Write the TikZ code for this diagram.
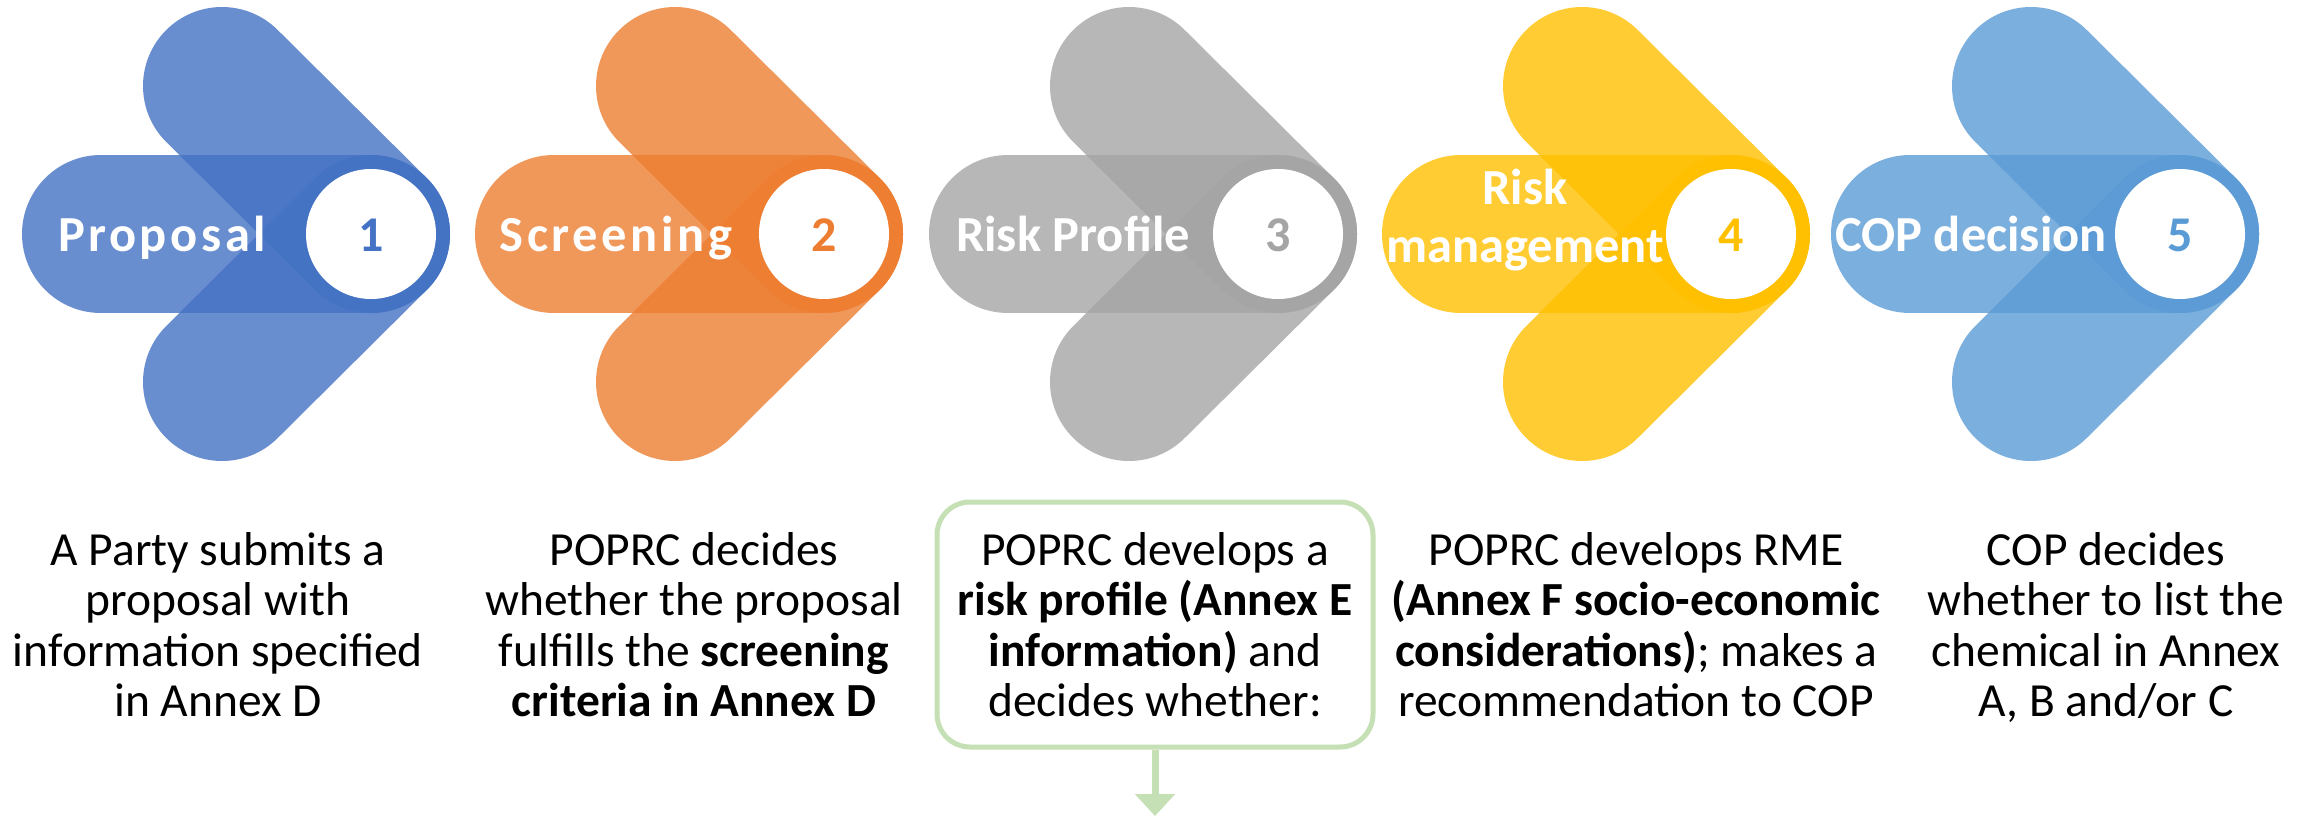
\documentclass[tikz,border=0pt]{standalone}
\usepackage{fontspec}
\setmainfont{Carlito}
\newfontfamily\spacedfont[LetterSpace=7]{Carlito}
\usetikzlibrary{arrows.meta}
\definecolor{cone}{HTML}{4472C4}
\definecolor{ctwo}{HTML}{ED7D31}
\definecolor{cthree}{HTML}{A5A5A5}
\definecolor{cfour}{HTML}{FFC000}
\definecolor{cfive}{HTML}{5B9BD5}
\definecolor{boxgreen}{HTML}{C5E0B4}
\newcommand{\mylines}[1]{\begin{tabular}[t]{@{}c@{}}#1\end{tabular}}
\renewcommand{\arraystretch}{1}
\begin{document}
\begin{tikzpicture}[x=1pt,y=-1pt,
  band/.style={line width=158pt, line cap=round, draw opacity=0.8},
  num/.style={font=\fontsize{50}{55}\selectfont\bfseries, anchor=base, inner sep=0pt},
  lab/.style={text=white, anchor=base, inner sep=0pt},
  desc/.style={font=\fontsize{47.5}{50.5}\selectfont, anchor=base, inner sep=0pt}]
\fill[white] (0,0) rectangle (2310,816);
\useasboundingbox (0,0) rectangle (2310,816);
\foreach \L/\c/\n in {22/cone/1, 475/ctwo/2, 929/cthree/3, 1382/cfour/4, 1831/cfive/5} {
  \coordinate (c\n) at (\L+349,234);
  \draw[band, draw=\c] (\L+79,234) -- (c\n);
  \draw[band, draw=\c] (\L+200,86) -- (c\n);
  \draw[band, draw=\c] (\L+200,382) -- (c\n);
  \fill[white] (c\n) circle (65);
  \node[num, text=\c] (n\n) at (\L+349,251) {\n};
}
\node[lab, font=\fontsize{50.5}{58}\spacedfont\bfseries] (l1) at (162,251) {Proposal};
\node[lab, font=\fontsize{50.5}{58}\spacedfont\bfseries] (l2) at (616,251) {Screening};
\node[lab, font=\fontsize{50.5}{58}\selectfont\bfseries] (l3) at (1073,251) {Risk Profile};
\node[lab, font=\fontsize{50.5}{58}\selectfont\bfseries] (l4) at (1525,204) {\mylines{Risk\\management}};
\node[lab, font=\fontsize{50.5}{58}\selectfont\bfseries] (l5) at (1971,251) {COP decision};

\node[draw=boxgreen, line width=5pt, rounded corners=33pt, minimum width=436pt, minimum height=245pt] (box3) at (1155,624.5) {};
\coordinate (aend) at (1155,816);
\draw[boxgreen, line width=7pt, -{Triangle[width=39pt,length=22pt]}] (box3.south) -- (aend);

\node[desc] (d1) at (218,565) {\mylines{A Party submits a\\proposal with\\information specified\\in Annex D}};
\node[desc] (d2) at (694,565) {\mylines{POPRC decides\\whether the proposal\\fulfills the \textbf{screening}\\\textbf{criteria in Annex D}}};
\node[desc] (d3) at (1155,565) {\mylines{POPRC develops a\\\textbf{risk profile (Annex E}\\\textbf{information)} and\\decides whether:}};
\node[desc] (d4) at (1636,565) {\mylines{POPRC develops RME\\\textbf{(Annex F socio-economic}\\\textbf{considerations)}; makes a\\recommendation to COP}};
\node[desc] (d5) at (2106,565) {\mylines{COP decides\\whether to list the\\chemical in Annex\\A, B and/or C}};
\end{tikzpicture}
\end{document}
